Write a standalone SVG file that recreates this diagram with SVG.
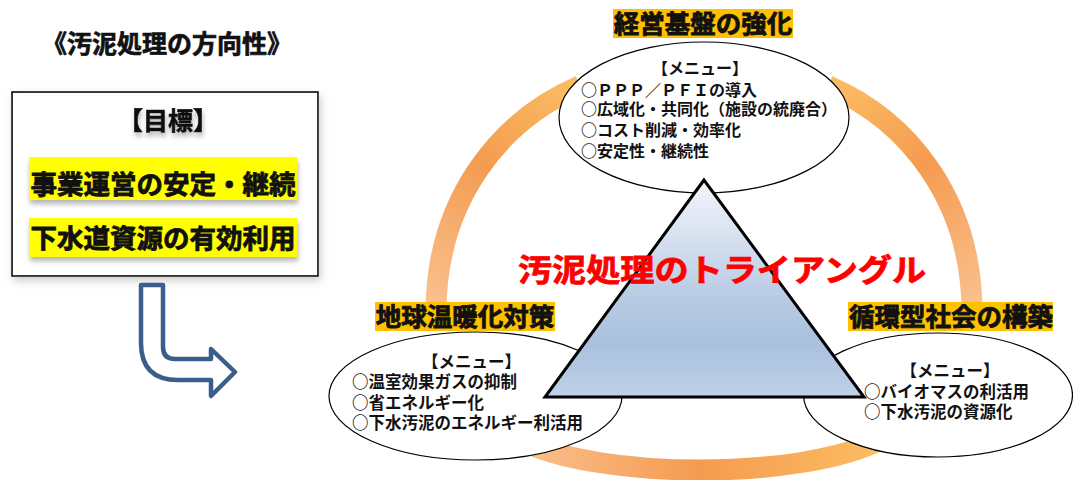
<svg xmlns="http://www.w3.org/2000/svg" width="1073" height="480" viewBox="0 0 1073 480">
<style>
text{font-family:"Noto Sans CJK JP","Noto Sans",sans-serif;font-weight:700;fill:#111;}
.title{font-size:25px;stroke:#111;stroke-width:0.7;}
.goal{font-size:26.5px;stroke:#111;stroke-width:0.8;}
.lbl{font-size:25.5px;stroke:#111;stroke-width:0.8;}
.menu{font-size:16px;}
.menu2{font-size:16.5px;}
.red{font-size:31px;fill:#ff0000;stroke:#ff0000;stroke-width:0.8;}
.ell{fill:#fff;stroke:#000;stroke-width:1.2;}
.arc{fill:none;stroke-width:21;}
.tag{fill:#ffc000;}
.hl{fill:#ffff00;}
</style>
<defs>
<filter id="sh" x="-10%" y="-30%" width="120%" height="170%">
<feDropShadow dx="1" dy="4" stdDeviation="2.5" flood-color="#777" flood-opacity="0.55"/>
</filter>
<filter id="bsh" x="-5%" y="-5%" width="112%" height="115%">
<feDropShadow dx="2" dy="4" stdDeviation="4" flood-color="#999" flood-opacity="0.5"/>
</filter>
<linearGradient id="gL" gradientUnits="userSpaceOnUse" x1="580" y1="86" x2="436" y2="305">
<stop offset="0" stop-color="#fbbd62"/><stop offset="0.45" stop-color="#f59b50"/><stop offset="1" stop-color="#f9c08e"/>
</linearGradient>
<linearGradient id="gR" gradientUnits="userSpaceOnUse" x1="828" y1="86" x2="972" y2="305">
<stop offset="0" stop-color="#fbbd62"/><stop offset="0.45" stop-color="#f59b50"/><stop offset="1" stop-color="#f9c08e"/>
</linearGradient>
<linearGradient id="gB" gradientUnits="userSpaceOnUse" x1="520" y1="0" x2="880" y2="0">
<stop offset="0" stop-color="#f9c08e"/><stop offset="0.5" stop-color="#f59b50"/><stop offset="1" stop-color="#fbbd62"/>
</linearGradient>
<linearGradient id="gT" x1="0" y1="0" x2="0" y2="1">
<stop offset="0" stop-color="#f3f6fb"/><stop offset="0.5" stop-color="#bccee6"/><stop offset="0.75" stop-color="#a9c0de"/><stop offset="1" stop-color="#bfd1e9"/>
</linearGradient>
</defs>

<g id="heading">
<text class="title" x="42" y="53">《汚泥処理の方向性》</text>
</g>

<g id="goal-box">
<rect x="12" y="92" width="306" height="184" fill="#fff" stroke="#000" stroke-width="1.6" filter="url(#bsh)"/>
<text class="title" x="168" y="130" text-anchor="middle" filter="url(#sh)">【目標】</text>
<rect class="hl" x="29" y="157" width="268" height="43" filter="url(#sh)"/>
<text class="goal" x="163" y="194" text-anchor="middle">事業運営の安定・継続</text>
<rect class="hl" x="29" y="218" width="268" height="39" filter="url(#sh)"/>
<text class="goal" x="163" y="248" text-anchor="middle">下水道資源の有効利用</text>
</g>

<g id="bent-arrow">
<path d="M141 285 L163 285 L163 347 Q163 359 175 359 L211 359 L211 349 L235 372 L211 396 L211 380 L178 380 Q141 380 141 343 Z" fill="#fff" stroke="#3a5d8c" stroke-width="4.5" stroke-linejoin="round"/>
</g>

<g id="connectors">
<path class="arc" stroke="url(#gL)" d="M580 86 C500 120 436 200 436 312"/>
<path class="arc" stroke="url(#gR)" d="M828 86 C908 120 972 200 972 312"/>
<path class="arc" stroke="url(#gB)" d="M520 440 C600 480 800 480 880 440"/>
</g>

<g id="node-top">
<ellipse class="ell" cx="704" cy="117.5" rx="145" ry="75.5"/>
<text class="menu" x="700" y="74" text-anchor="middle">【メニュー】</text>
<text class="menu" x="581" y="96">○ＰＰＰ／ＰＦＩの導入</text>
<text class="menu" x="581" y="115">○広域化・共同化（施設の統廃合）</text>
<text class="menu" x="581" y="136">○コスト削減・効率化</text>
<text class="menu" x="581" y="157">○安定性・継続性</text>
</g>

<g id="node-left">
<ellipse class="ell" cx="475.5" cy="396" rx="146.5" ry="64"/>
<text class="menu2" x="471.5" y="368" text-anchor="middle">【メニュー】</text>
<text class="menu2" x="352" y="388">○温室効果ガスの抑制</text>
<text class="menu2" x="352" y="409">○省エネルギー化</text>
<text class="menu2" x="352" y="429">○下水汚泥のエネルギー利活用</text>
</g>

<g id="node-right">
<ellipse class="ell" cx="938" cy="395" rx="134.5" ry="62"/>
<text class="menu2" x="950" y="377" text-anchor="middle">【メニュー】</text>
<text class="menu2" x="864" y="398">○バイオマスの利活用</text>
<text class="menu2" x="864" y="418">○下水汚泥の資源化</text>
</g>

<g id="triangle">
<polygon points="704,180 545,397 864,397" fill="url(#gT)" stroke="#000" stroke-width="3" stroke-linejoin="miter"/>
<text class="red" x="518" y="281" textLength="408" lengthAdjust="spacingAndGlyphs">汚泥処理のトライアングル</text>
</g>

<g id="label-top">
<rect class="tag" x="613" y="9" width="180" height="29"/>
<text class="lbl" x="703" y="33" text-anchor="middle">経営基盤の強化</text>
</g>
<g id="label-left">
<rect class="tag" x="375" y="302" width="180" height="29"/>
<text class="lbl" x="465" y="326" text-anchor="middle">地球温暖化対策</text>
</g>
<g id="label-right">
<rect class="tag" x="848" y="302" width="205" height="29"/>
<text class="lbl" x="951" y="326" text-anchor="middle">循環型社会の構築</text>
</g>
</svg>
